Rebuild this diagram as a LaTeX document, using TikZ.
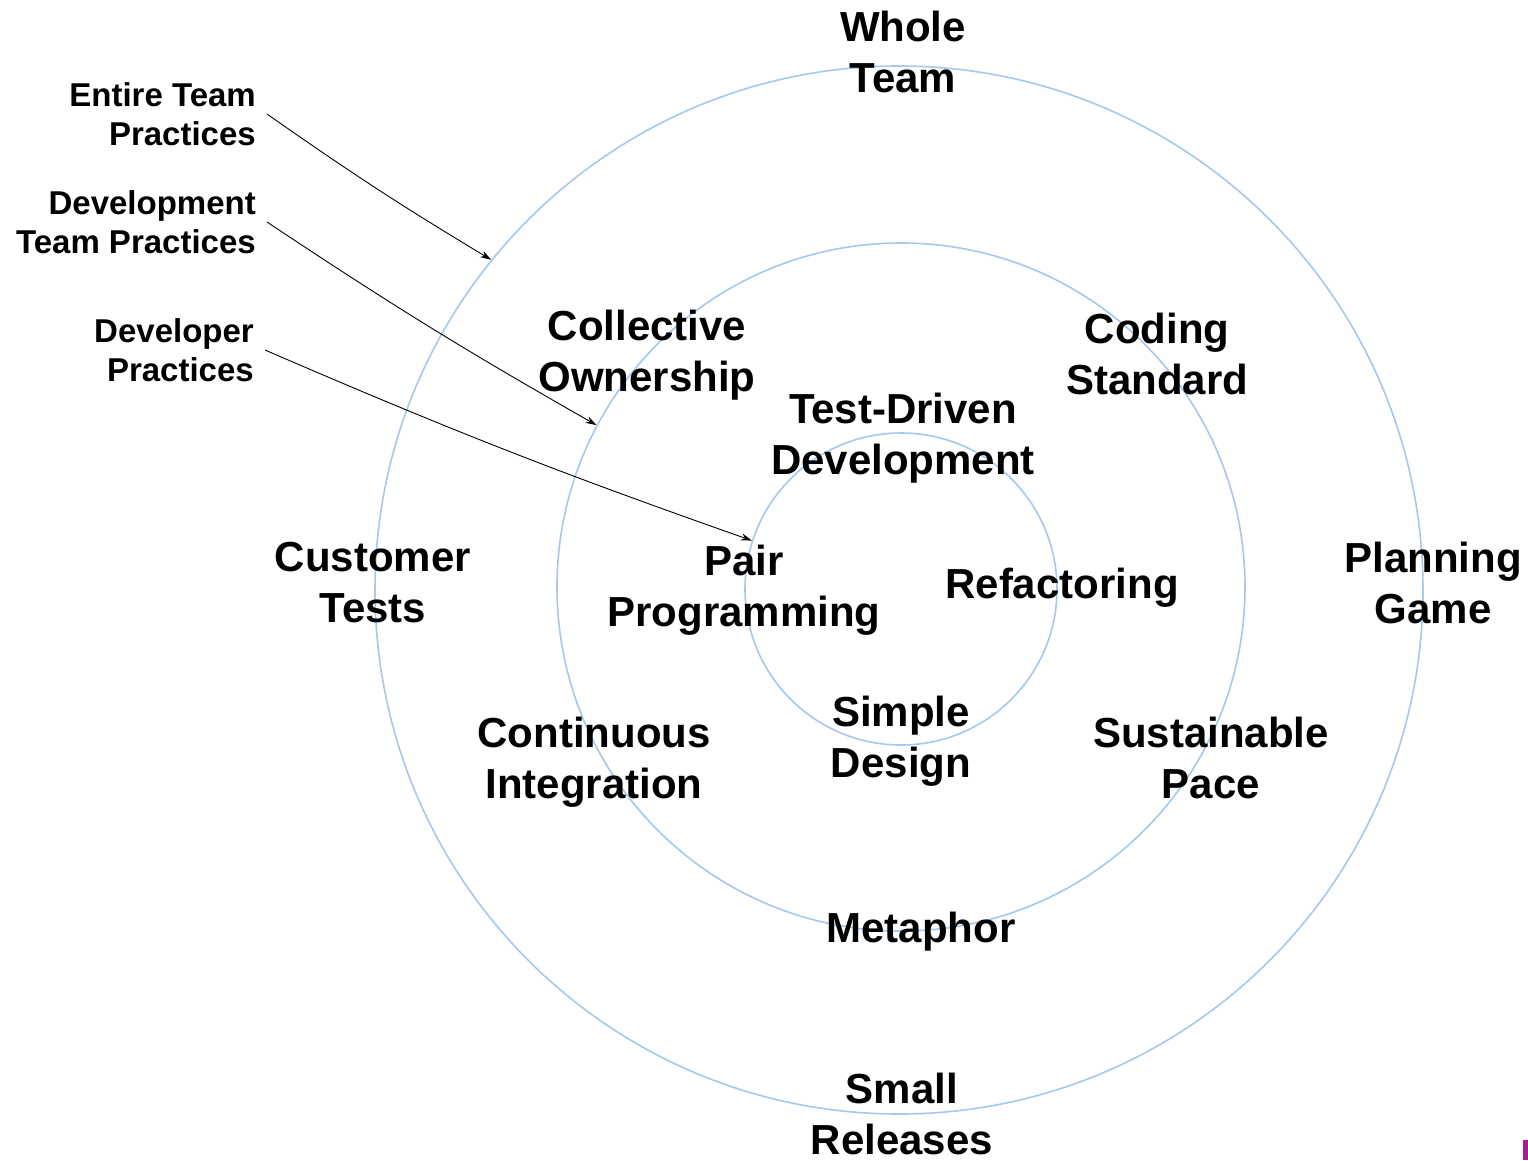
\documentclass[tikz,border=0pt]{standalone}
\usepackage{fontspec}
\setmainfont{Liberation Sans}
\usetikzlibrary{arrows.meta}

\definecolor{ringblue}{RGB}{165,200,238}
\definecolor{edgemark}{RGB}{170,30,140}

\begin{document}
\begin{tikzpicture}[x=1pt, y=-1pt, >={Stealth[length=11pt,width=7pt]},
    ring/.style = {draw=ringblue, circle, line width=1.6pt, inner sep=0pt},
    prac/.style = {font=\bfseries\fontsize{42}{51}\selectfont, align=center},
    group/.style = {font=\bfseries\fontsize{33}{39}\selectfont, align=right, anchor=east, inner xsep=11pt},
    pointer/.style = {->, line width=0.9pt, bend right=2}]

    \fill[white] (0,0) rectangle (1528,1160);
    \useasboundingbox (0,0) rectangle (1528,1160);

    % Rings
    \node[ring, minimum size=1048pt] (outer) at (899,590) {};
    \node[ring, minimum size=688pt] (middle) at (901,587) {};
    \node[ring, minimum size=312pt] (inner) at (901,589) {};

    % Practices
    \node[prac] (whole) at (903,52) {Whole\\Team};
    \node[prac] (collective) at (647,355) {Collective\\Ownership};
    \node[prac] (coding) at (1157,354) {Coding\\Standard};
    \node[prac] (tdd) at (903,438) {Test-Driven\\Development};
    \node[prac] (customer) at (373,583) {Customer\\Tests};
    \node[prac] (pair) at (744,590) {Pair\\Programming};
    \node[prac] (refactor) at (1062,588) {Refactoring};
    \node[prac] (planning) at (1433,583) {Planning\\Game};
    \node[prac] (integration) at (594,762) {Continuous\\Integration};
    \node[prac] (simple) at (901,741) {Simple\\Design};
    \node[prac] (sustain) at (1211,758) {Sustainable\\Pace};
    \node[prac] (metaphor) at (921,932) {Metaphor};
    \node[prac] (releases) at (902,1114) {Small\\Releases};

    % Practice groups
    \node[group] (entire) at (267,114) {Entire Team\\Practices};
    \node[group] (devteam) at (267,222) {Development\\Team Practices};
    \node[group] (developer) at (265,350) {Developer\\Practices};

    % Arrows into the rings
    \draw[pointer] (entire.east) to (outer.141);
    \draw[pointer] (devteam.east) to (middle.152);
    \draw[pointer] (developer.east) to (inner.162);

    \fill[edgemark] (1523,1140) rectangle (1528,1160);
\end{tikzpicture}
\end{document}
